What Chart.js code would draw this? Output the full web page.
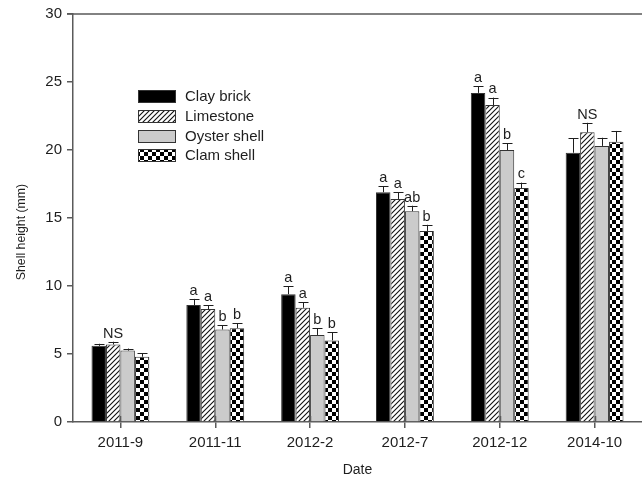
<!DOCTYPE html>
<html>
<head>
<meta charset="utf-8">
<script src="https://cdn.jsdelivr.net/npm/chart.js@4.4.1/dist/chart.umd.min.js"></script>
<style>
  html, body { margin: 0; padding: 0; background: #fff; }
  #wrap { width: 642px; height: 480px; }
</style>
</head>
<body>
<div id="wrap"><canvas id="shellChart" width="642" height="480"></canvas></div>
<script>
// Sampling dates
const dates = ["2011-9", "2011-11", "2012-2", "2012-7", "2012-12", "2014-10"];

// Mean shell height (mm) and standard error per substrate
const clay = [5.6, 8.6, 9.4, 16.9, 24.2, 19.8];
const clayErr = [0.15, 0.45, 0.6, 0.45, 0.5, 1.05];
const lime = [5.7, 8.3, 8.4, 16.4, 23.3, 21.3];
const limeErr = [0.2, 0.3, 0.4, 0.5, 0.55, 0.7];
const oyster = [5.25, 6.8, 6.4, 15.5, 20.0, 20.3];
const oysterErr = [0.15, 0.3, 0.5, 0.4, 0.5, 0.6];
const clam = [4.8, 6.9, 6.0, 14.05, 17.2, 20.6];
const clamErr = [0.25, 0.35, 0.6, 0.45, 0.4, 0.8];

// Significance letters above each bar
const clayLetters = ["", "a", "a", "a", "a", ""];
const limeLetters = ["NS", "a", "a", "a", "a", "NS"];
const oysterLetters = ["", "b", "b", "ab", "b", ""];
const clamLetters = ["", "b", "b", "b", "c", ""];

const yTicks = { min: 0, max: 30, step: 5 };

const FONT = '"Liberation Sans", Arial, Helvetica, sans-serif';
const AXIS = "#5a5a5a";
const INK = "#1e1e1e";
Chart.defaults.font.family = FONT;

const canvas = document.getElementById("shellChart");
const ctx = canvas.getContext("2d");

// Fill patterns
function hatchPattern() {
  const s = 5;
  const c = document.createElement("canvas");
  c.width = c.height = s;
  const g = c.getContext("2d");
  g.fillStyle = "#fff";
  g.fillRect(0, 0, s, s);
  g.strokeStyle = "#111";
  g.lineWidth = 1.1;
  g.beginPath();
  g.moveTo(0, s); g.lineTo(s, 0);
  g.moveTo(-1, 1); g.lineTo(1, -1);
  g.moveTo(s - 1, s + 1); g.lineTo(s + 1, s - 1);
  g.stroke();
  return ctx.createPattern(c, "repeat");
}

function checkerPattern() {
  const s = 4;
  const c = document.createElement("canvas");
  c.width = c.height = s * 2;
  const g = c.getContext("2d");
  g.fillStyle = "#fff";
  g.fillRect(0, 0, s * 2, s * 2);
  g.fillStyle = "#000";
  g.fillRect(0, 0, s, s);
  g.fillRect(s, s, s, s);
  return ctx.createPattern(c, "repeat");
}

const series = [
  { label: "Clay brick", data: clay, errors: clayErr, letters: clayLetters, fill: "#000" },
  { label: "Limestone", data: lime, errors: limeErr, letters: limeLetters, fill: hatchPattern() },
  { label: "Oyster shell", data: oyster, errors: oysterErr, letters: oysterLetters, fill: "#cbcbcb" },
  { label: "Clam shell", data: clam, errors: clamErr, letters: clamLetters, fill: checkerPattern() }
];

// Upper error bars with significance letters
const errorBars = {
  id: "errorBars",
  afterDatasetsDraw(chart) {
    const g = chart.ctx;
    const y = chart.scales.y;
    g.save();
    g.strokeStyle = INK;
    g.lineWidth = 1;
    g.fillStyle = INK;
    g.font = "14.5px " + FONT;
    g.textAlign = "center";
    g.textBaseline = "bottom";
    chart.data.datasets.forEach((ds, d) => {
      chart.getDatasetMeta(d).data.forEach((bar, i) => {
        const top = y.getPixelForValue(ds.data[i] + ds.errors[i]);
        const x = Math.round(bar.x) + 0.5;
        g.beginPath();
        g.moveTo(x, bar.y);
        g.lineTo(x, top);
        g.moveTo(x - 5, Math.round(top) + 0.5);
        g.lineTo(x + 5, Math.round(top) + 0.5);
        g.stroke();
        if (ds.letters[i]) g.fillText(ds.letters[i], bar.x, top - 1);
      });
    });
    g.restore();
  }
};

// Top frame line, inner halves of x ticks, y title and the legend
const frameAndLegend = {
  id: "frameAndLegend",
  afterDraw(chart) {
    const g = chart.ctx;
    const a = chart.chartArea;
    const x = chart.scales.x;
    g.save();
    g.strokeStyle = AXIS;
    g.lineWidth = 1.5;
    g.beginPath();
    g.moveTo(a.left - 6, a.top);
    g.lineTo(a.right, a.top);
    x.ticks.forEach((t, i) => {
      const px = Math.round(x.getPixelForTick(i)) + 0.5;
      g.moveTo(px, a.bottom);
      g.lineTo(px, a.bottom - 6);
    });
    g.stroke();

    // y axis title, sits a little below the axis middle
    g.save();
    g.translate(22, 232);
    g.rotate(-Math.PI / 2);
    g.font = "12.3px " + FONT;
    g.fillStyle = INK;
    g.textAlign = "center";
    g.textBaseline = "middle";
    g.fillText("Shell height (mm)", 0, 0);
    g.restore();

    const box = { x: 138, y: 90, w: 37, h: 12, gap: 19.8, textX: 185 };
    g.font = "15px " + FONT;
    g.textBaseline = "middle";
    g.textAlign = "left";
    chart.data.datasets.forEach((ds, d) => {
      const top = Math.round(box.y + d * box.gap) + 0.5;
      g.fillStyle = ds.backgroundColor;
      g.fillRect(box.x, top, box.w, box.h);
      g.strokeStyle = "#333";
      g.lineWidth = 1;
      g.strokeRect(box.x + 0.5, top, box.w, box.h);
      g.fillStyle = INK;
      g.fillText(ds.label, box.textX, top + box.h / 2 + 0.5);
    });
    g.restore();
  }
};

new Chart(ctx, {
  type: "bar",
  data: {
    labels: dates,
    datasets: series.map(s => ({
      label: s.label,
      data: s.data,
      errors: s.errors,
      letters: s.letters,
      backgroundColor: s.fill,
      borderColor: "#333",
      borderWidth: 1,
      categoryPercentage: 0.61,
      barPercentage: 1.0
    }))
  },
  options: {
    responsive: false,
    animation: false,
    layout: { padding: { top: 14, right: 0, bottom: 0, left: 0 } },
    plugins: {
      legend: { display: false },
      tooltip: { enabled: false }
    },
    scales: {
      x: {
        grid: { offset: false, drawOnChartArea: false, tickLength: 6, color: AXIS, lineWidth: 1.5 },
        border: { color: AXIS, width: 1.5 },
        ticks: { font: { size: 15 }, color: INK, padding: 6, maxRotation: 0 },
        title: { display: true, text: "Date", font: { size: 14 }, color: INK, padding: { top: 0, bottom: 1 } },
        afterFit: s => { s.height = 58; }
      },
      y: {
        min: yTicks.min,
        max: yTicks.max,
        grid: { drawOnChartArea: false, tickLength: 6, color: AXIS, lineWidth: 1.5 },
        border: { color: AXIS, width: 1.5 },
        ticks: { stepSize: yTicks.step, font: { size: 15 }, color: INK, padding: 5 },
        afterFit: s => { s.width = 73; }
      }
    }
  },
  plugins: [errorBars, frameAndLegend]
});
</script>
</body>
</html>
